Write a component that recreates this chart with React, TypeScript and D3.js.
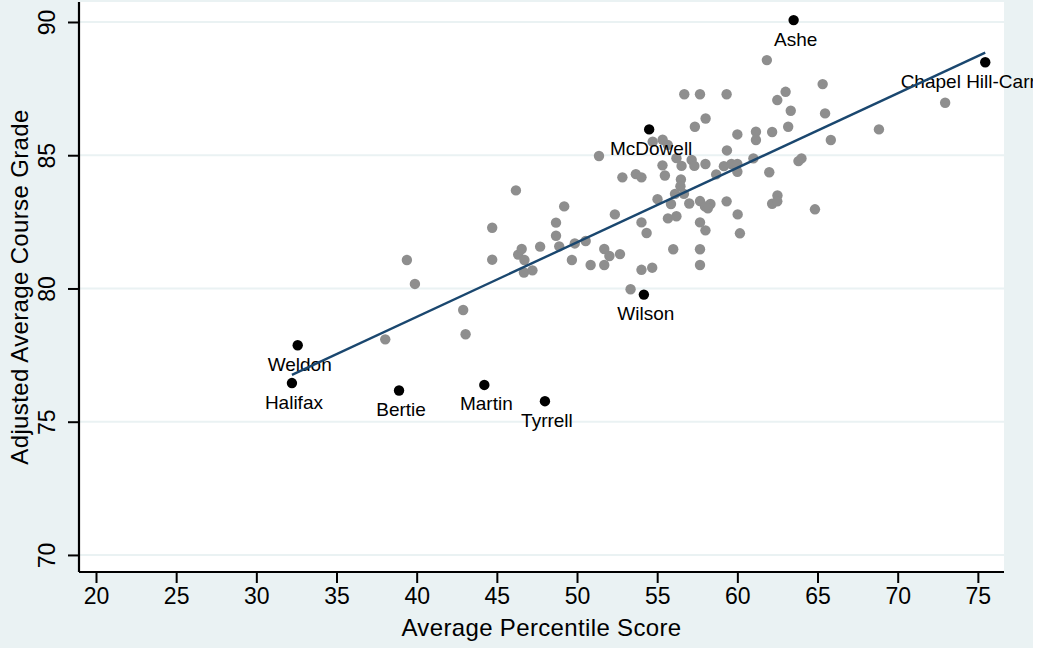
import React, { useRef, useEffect } from 'react';
import * as d3 from 'd3';

// unlabeled districts
const otherScore = [
  38.04, 39.39, 39.89, 42.90, 43.05, 44.71, 44.71, 46.19, 46.33, 46.55,
  46.72, 46.69, 47.22, 47.70, 48.69, 48.69, 48.89, 49.20, 49.86, 50.54,
  49.68, 50.85, 51.37, 51.70, 52.02, 51.70, 52.36, 52.68, 52.83, 53.67,
  54.02, 53.34, 54.02, 54.34, 54.02, 54.69, 54.72, 55.34, 55.66, 55.33,
  55.48, 55.02, 55.86, 55.67, 56.20, 56.00, 56.20, 56.52, 57.15, 57.32,
  56.48, 56.45, 56.11, 56.67, 57.00, 57.67, 57.98, 58.32, 58.16, 57.67,
  58.01, 57.67, 57.67, 56.69, 57.67, 59.33, 58.02, 57.35, 58.01, 58.68,
  59.16, 59.63, 60.00, 60.00, 59.35, 60.00, 61.00, 61.16, 61.16, 62.17,
  61.99, 63.81, 64.00, 61.84, 63.01, 62.49, 63.33, 63.17, 65.32, 65.47,
  65.83, 68.83, 72.96, 59.33, 60.02, 60.16, 62.50, 62.17, 62.49, 64.84
];
const otherGrade = [
  78.09, 81.07, 80.17, 79.19, 78.28, 82.28, 81.08, 83.68, 81.27, 81.48,
  81.07, 80.60, 80.68, 81.57, 82.47, 81.98, 81.58, 83.08, 81.69, 81.78,
  81.07, 80.88, 84.97, 81.48, 81.22, 80.88, 82.78, 81.29, 84.17, 84.29,
  84.17, 79.97, 82.48, 82.08, 80.70, 80.78, 85.51, 85.58, 85.39, 84.62,
  84.24, 83.35, 83.17, 82.63, 82.71, 81.47, 84.89, 84.60, 84.82, 84.60,
  84.09, 83.84, 83.55, 83.55, 83.19, 83.28, 83.08, 83.17, 83.01, 82.48,
  82.18, 81.47, 80.88, 87.29, 87.29, 87.29, 86.38, 86.07, 84.67, 84.28,
  84.59, 84.67, 84.67, 84.38, 85.18, 85.78, 84.88, 85.88, 85.57, 85.87,
  84.36, 84.78, 84.88, 88.57, 87.38, 87.07, 86.67, 86.07, 87.67, 86.57,
  85.57, 85.97, 86.97, 83.27, 82.78, 82.07, 83.49, 83.18, 83.27, 82.97
];

// highlighted districts
const labelNames = ['Ashe', 'Chapel Hill-Carrboro', 'McDowell', 'Wilson', 'Weldon', 'Halifax', 'Bertie', 'Martin', 'Tyrrell'];
const labelScore = [63.51, 75.46, 54.50, 54.17, 32.58, 32.22, 38.90, 44.22, 48.00];
const labelGrade = [90.07, 88.49, 85.97, 79.77, 77.87, 76.45, 76.17, 76.38, 75.77];

// linear fit endpoints
const fitScore = [32.22, 75.46];
const fitGrade = [76.76, 88.85];

const xTicks = [20, 25, 30, 35, 40, 45, 50, 55, 60, 65, 70, 75];
const yTicks = [70, 75, 80, 85, 90];

const bg = '#eaf2f3';
const font = '"Liberation Sans", Arial, Helvetica, sans-serif';

const App: React.FC = () => {
  const ref = useRef<SVGSVGElement>(null);

  useEffect(() => {
    const W = 1033, H = 648;
    const margin = { top: 2, right: 29, bottom: 76, left: 79 };
    const width = W - margin.left - margin.right;
    const height = H - margin.top - margin.bottom;

    const root = d3.select(ref.current);
    root.selectAll('*').remove();
    root.attr('width', W).attr('height', H);

    root.append('rect').attr('width', W).attr('height', H).attr('fill', bg);

    const svg = root.append('g').attr('transform', `translate(${margin.left},${margin.top})`);
    svg.append('rect').attr('width', width).attr('height', height).attr('fill', '#fff');

    const x = d3.scaleLinear().domain([18.94, 76.63]).range([0, width]);
    const y = d3.scaleLinear().domain([69.36, 90.75]).range([height, 0]);

    // gridlines
    svg.append('g')
      .selectAll('line')
      .data(yTicks)
      .join('line')
      .attr('x1', 0)
      .attr('x2', width)
      .attr('y1', d => y(d))
      .attr('y2', d => y(d))
      .attr('stroke', bg)
      .attr('stroke-width', 2);

    // gray markers
    svg.append('g')
      .selectAll('circle')
      .data(otherScore.map((s, i) => [s, otherGrade[i]]))
      .join('circle')
      .attr('cx', d => x(d[0]))
      .attr('cy', d => y(d[1]))
      .attr('r', 5.2)
      .attr('fill', '#8e8e8e');

    // black markers with labels
    const lab = svg.append('g');
    labelNames.forEach((name, i) => {
      lab.append('circle')
        .attr('cx', x(labelScore[i]))
        .attr('cy', y(labelGrade[i]))
        .attr('r', 5.2)
        .attr('fill', '#000');
      lab.append('text')
        .attr('x', x(labelScore[i]) + 2)
        .attr('y', y(labelGrade[i]) + 25.5)
        .attr('text-anchor', 'middle')
        .attr('font-family', font)
        .attr('font-size', '19px')
        .attr('fill', '#000')
        .text(name);
    });

    // fitted line
    const line = d3.line<number>()
      .x(d => x(d))
      .y((d, i) => y(fitGrade[i]));
    svg.append('path')
      .datum(fitScore)
      .attr('fill', 'none')
      .attr('stroke', '#1a476f')
      .attr('stroke-width', 2.4)
      .attr('d', line);

    // axes
    const xAxis = svg.append('g')
      .attr('transform', `translate(0,${height})`)
      .call(d3.axisBottom(x).tickValues(xTicks).tickSize(11).tickPadding(5).tickFormat(d3.format('d')));
    xAxis.select('.domain').attr('stroke', '#000').attr('stroke-width', 2.2).attr('d', `M0,0H${width}`);
    xAxis.selectAll('.tick line').attr('stroke', '#000').attr('stroke-width', 2);
    xAxis.selectAll('.tick text')
      .attr('font-family', font)
      .attr('font-size', '23px')
      .attr('fill', '#000')
      .attr('dy', '0.71em');

    const yAxis = svg.append('g')
      .call(d3.axisLeft(y).tickValues(yTicks).tickSize(11).tickFormat(d3.format('d')));
    yAxis.select('.domain').attr('stroke', '#000').attr('stroke-width', 2.2).attr('d', `M0,0V${height}`);
    yAxis.selectAll('.tick line').attr('stroke', '#000').attr('stroke-width', 2);
    yAxis.selectAll('.tick text')
      .attr('font-family', font)
      .attr('font-size', '23px')
      .attr('fill', '#000')
      .attr('x', null)
      .attr('dy', null)
      .attr('text-anchor', 'middle')
      .attr('transform', 'translate(-24,0) rotate(-90)');

    // titles
    svg.append('text')
      .attr('x', width / 2)
      .attr('y', 636 - margin.top)
      .attr('text-anchor', 'middle')
      .attr('font-family', font)
      .attr('font-size', '24px')
      .attr('letter-spacing', '0.35px')
      .text('Average Percentile Score');

    svg.append('text')
      .attr('transform', `translate(${28 - margin.left},${height / 2}) rotate(-90)`)
      .attr('text-anchor', 'middle')
      .attr('font-family', font)
      .attr('font-size', '24px')
      .attr('letter-spacing', '0.35px')
      .text('Adjusted Average Course Grade');
  }, []);

  return <svg ref={ref} style={{ position: 'absolute', left: 0, top: 0 }}></svg>;
};

export default App;
